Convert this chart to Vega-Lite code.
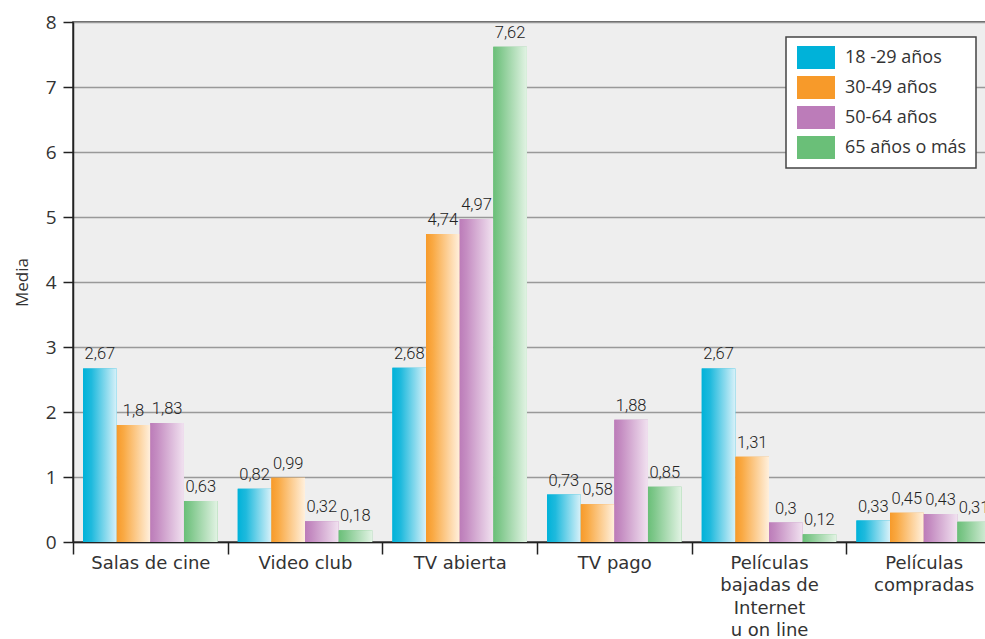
{
  "$schema": "https://vega.github.io/schema/vega-lite/v6.json",
  "autosize": {"type": "none"},
  "padding": {"left": 73, "top": 22, "right": 0, "bottom": 97},
  "width": 928,
  "height": 520,
  "background": "white",
  "config": {
    "locale": {"number": {"decimal": ",", "thousands": ".", "grouping": [3], "currency": ["", " €"]}},
    "view": {"fill": "#eeeeee", "stroke": "#333333", "strokeWidth": 1.5},
    "font": "Open Sans"
  },
  "data": {"values": [
    {"cat": "Salas de cine", "grupo": "18 -29 años", "media": 2.67},
    {"cat": "Salas de cine", "grupo": "30-49 años", "media": 1.8},
    {"cat": "Salas de cine", "grupo": "50-64 años", "media": 1.83},
    {"cat": "Salas de cine", "grupo": "65 años o más", "media": 0.63},
    {"cat": "Video club", "grupo": "18 -29 años", "media": 0.82},
    {"cat": "Video club", "grupo": "30-49 años", "media": 0.99},
    {"cat": "Video club", "grupo": "50-64 años", "media": 0.32},
    {"cat": "Video club", "grupo": "65 años o más", "media": 0.18},
    {"cat": "TV abierta", "grupo": "18 -29 años", "media": 2.68},
    {"cat": "TV abierta", "grupo": "30-49 años", "media": 4.74},
    {"cat": "TV abierta", "grupo": "50-64 años", "media": 4.97},
    {"cat": "TV abierta", "grupo": "65 años o más", "media": 7.62},
    {"cat": "TV pago", "grupo": "18 -29 años", "media": 0.73},
    {"cat": "TV pago", "grupo": "30-49 años", "media": 0.58},
    {"cat": "TV pago", "grupo": "50-64 años", "media": 1.88},
    {"cat": "TV pago", "grupo": "65 años o más", "media": 0.85},
    {"cat": "Películas bajadas de Internet u on line", "grupo": "18 -29 años", "media": 2.67},
    {"cat": "Películas bajadas de Internet u on line", "grupo": "30-49 años", "media": 1.31},
    {"cat": "Películas bajadas de Internet u on line", "grupo": "50-64 años", "media": 0.3},
    {"cat": "Películas bajadas de Internet u on line", "grupo": "65 años o más", "media": 0.12},
    {"cat": "Películas compradas", "grupo": "18 -29 años", "media": 0.33},
    {"cat": "Películas compradas", "grupo": "30-49 años", "media": 0.45},
    {"cat": "Películas compradas", "grupo": "50-64 años", "media": 0.43},
    {"cat": "Películas compradas", "grupo": "65 años o más", "media": 0.31}
  ]},
  "encoding": {
    "x": {
      "field": "cat", "type": "nominal", "sort": null,
      "scale": {"paddingInner": 0, "paddingOuter": 0},
      "axis": {
        "title": null, "labelAngle": 0, "tickBand": "extent",
        "domainColor": "#222222", "domainWidth": 1.5,
        "tickColor": "#222222", "tickWidth": 1.5, "tickSize": 12,
        "labelFontSize": 18, "labelColor": "#333333", "labelPadding": 0,
        "labelFont": "DejaVu Sans", "labelLineHeight": 22.5, "labelBaseline": "top",
        "labelExpr": "datum.label == 'Películas bajadas de Internet u on line' ? ['Películas','bajadas de','Internet','u on line'] : datum.label == 'Películas compradas' ? ['Películas','compradas'] : datum.label"
      }
    },
    "xOffset": {"field": "grupo", "type": "nominal", "sort": null, "scale": {"paddingInner": 0, "paddingOuter": 0.3}},
    "y": {
      "field": "media", "type": "quantitative",
      "scale": {"domain": [0, 8]},
      "axis": {
        "title": "Media", "titleFontSize": 17, "titleFontWeight": "normal", "titleColor": "#333333", "titlePadding": 14,
        "values": [0,1,2,3,4,5,6,7,8], "format": "d",
        "domainColor": "#222222", "domainWidth": 1.5,
        "tickColor": "#222222", "tickWidth": 1.5, "tickSize": 10,
        "gridColor": "#999999", "gridWidth": 1.5,
        "labelFontSize": 19, "labelColor": "#333333", "labelPadding": 7
      }
    }
  },
  "layer": [
    {
      "mark": {"type": "bar"},
      "encoding": {
        "color": {
          "field": "grupo", "type": "nominal", "sort": null,
          "scale": {
            "domain": ["18 -29 años", "30-49 años", "50-64 años", "65 años o más"],
            "range": ["#00b2d9", "#f79a2a", "#bc7cb9", "#6abf78"]
          },
          "legend": {
            "title": null, "orient": "none", "legendX": 713, "legendY": 15,
            "fillColor": "white", "strokeColor": "#444444",
            "padding": 9, "symbolType": "M-0.826,-1H2.478V1H-0.826Z", "symbolSize": 529,
            "symbolStrokeWidth": 0, "labelFontSize": 18, "labelColor": "#333333",
            "labelOffset": 27, "rowPadding": 7, "labelLimit": 200,
            "symbolOpacity": 1,
            "encode": {
              "legend": {"update": {"strokeWidth": {"value": 1.5}}}
            }
          }
        }
      }
    },
    {
      "mark": {"type": "bar", "fill": {"expr": "datum.grupo == '18 -29 años' ? {gradient: 'linear', x1: 0, y1: 0, x2: 1, y2: 0, stops: [{offset: 0, color: '#00b2d9'}, {offset: 0.25, color: '#1fbadd'}, {offset: 1, color: '#d8f1f9'}]} : datum.grupo == '30-49 años' ? {gradient: 'linear', x1: 0, y1: 0, x2: 1, y2: 0, stops: [{offset: 0, color: '#f79a2a'}, {offset: 0.2, color: '#f9a943'}, {offset: 1, color: '#fff0dd'}]} : datum.grupo == '50-64 años' ? {gradient: 'linear', x1: 0, y1: 0, x2: 1, y2: 0, stops: [{offset: 0, color: '#bc7cb9'}, {offset: 0.2, color: '#c58dc2'}, {offset: 1, color: '#f1e2f0'}]} : {gradient: 'linear', x1: 0, y1: 0, x2: 1, y2: 0, stops: [{offset: 0, color: '#6abf78'}, {offset: 0.2, color: '#80c88c'}, {offset: 1, color: '#e2f3e4'}]}"}}
    },
    {
      "mark": {"type": "text", "baseline": "alphabetic", "dy": -9, "fontSize": 16.5, "font": "Roboto", "fontWeight": 300, "color": "#222222"},
      "encoding": {
        "text": {"field": "media", "type": "quantitative", "format": "~g"}
      }
    }
  ]
}
